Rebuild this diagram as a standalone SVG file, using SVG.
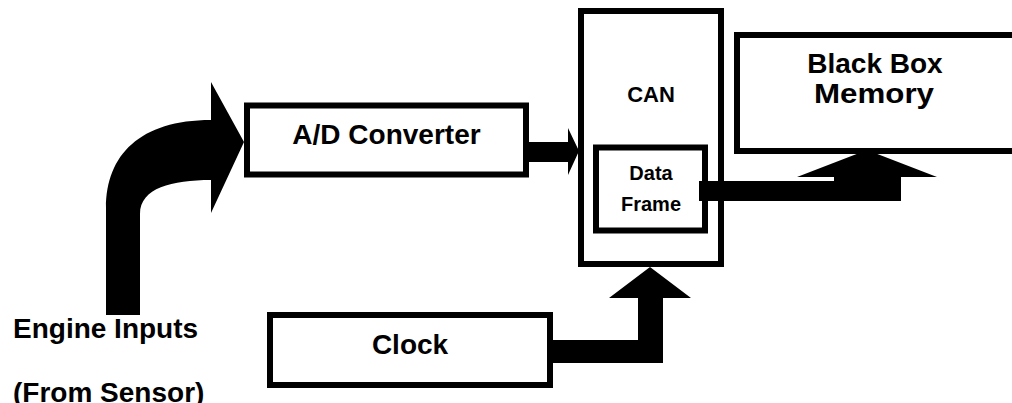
<svg xmlns="http://www.w3.org/2000/svg" width="1012" height="403" viewBox="0 0 1012 403">
<style>
.box{fill:#fff;stroke:#000;stroke-width:6}
.t{font-family:"Liberation Sans",Arial,sans-serif;font-weight:bold;fill:#000;font-size:28px}
.m{text-anchor:middle}
.arr{fill:#000;stroke:none}
</style>
<rect width="1012" height="403" fill="#fff"/>
<g id="ad-converter">
<rect class="box" x="247" y="105.5" width="279" height="69"/>
<text class="t m" x="386.5" y="144">A/D Converter</text>
</g>
<g id="clock">
<rect class="box" x="270" y="315" width="280" height="70"/>
<text class="t m" x="410" y="354">Clock</text>
</g>
<g id="can">
<rect class="box" x="581" y="11" width="140" height="253"/>
<text class="t m" x="651" y="102" style="font-size:22px">CAN</text>
</g>
<g id="data-frame">
<rect class="box" x="596" y="147.5" width="109" height="83"/>
<text class="t m" x="651" y="180" style="font-size:20px">Data</text>
<text class="t m" x="651" y="211" style="font-size:20px">Frame</text>
</g>
<g id="black-box-memory">
<rect class="box" x="737" y="35" width="300" height="116"/>
<text class="t m" x="875" y="73">Black Box</text>
<text class="t m" x="874" y="103" textLength="120" lengthAdjust="spacingAndGlyphs">Memory</text>
</g>
<g id="engine-inputs">
<text class="t" x="13" y="338">Engine Inputs</text>
<text class="t" x="13" y="402">(From Sensor)</text>
</g>
<g id="connectors">
<path class="arr" d="M106,315 L106,208 C106,155 140,120 211,120 L211,82 L244,142 L211,213 L211,180 C172,180 140,188 140,214 L140,315 Z"/>
<polygon class="arr" points="529,142 568,142 568,128 579,151 568,175 568,162 529,162"/>
<polygon class="arr" points="553,340 638,340 638,298 609,298 650,267 691,298 663,298 663,363 553,363"/>
<polygon class="arr" points="699,181 834,181 834,177 797,177 867,150 937,177 901,177 901,201 699,201"/>
</g>
</svg>
